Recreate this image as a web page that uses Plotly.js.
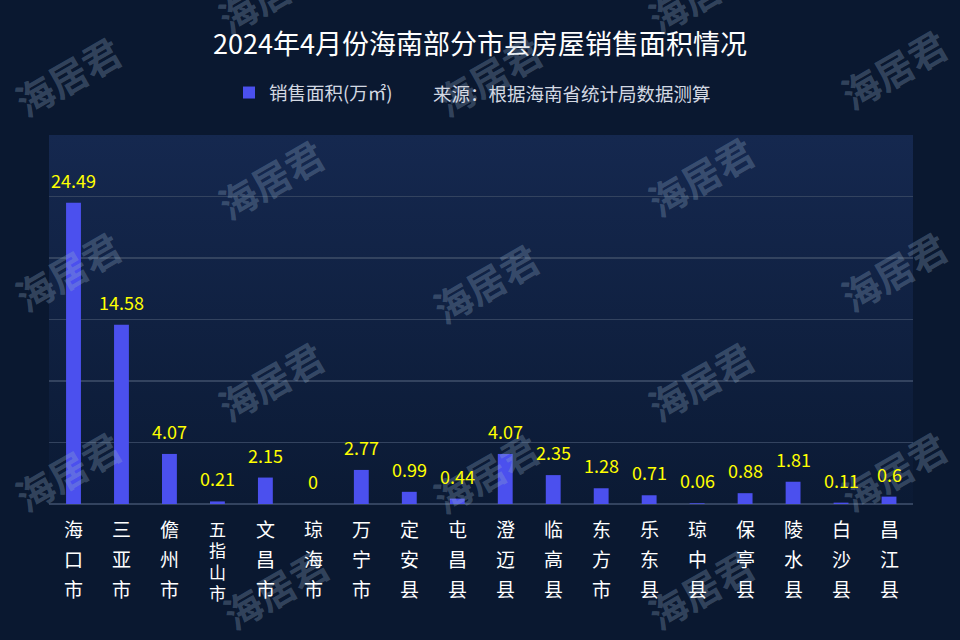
<!DOCTYPE html>
<html>
<head>
<meta charset="utf-8">
<script src="https://cdn.plot.ly/plotly-3.0.1.min.js"></script>
<style>
  html, body { margin: 0; padding: 0; background: #0a1830; }
  #chart { width: 960px; height: 640px; }
</style>
</head>
<body>
<div id="chart"></div>
<script>
// ---- data ----
const categories = ["海口市", "三亚市", "儋州市", "五指山市", "文昌市", "琼海市", "万宁市", "定安县", "屯昌县",
                    "澄迈县", "临高县", "东方市", "乐东县", "琼中县", "保亭县", "陵水县", "白沙县", "昌江县"];
const salesArea = [24.49, 14.58, 4.07, 0.21, 2.15, 0, 2.77, 0.99, 0.44,
                   4.07, 2.35, 1.28, 0.71, 0.06, 0.88, 1.81, 0.11, 0.6];
const seriesName = "销售面积(万㎡)";
const chartTitle = "2024年4月份海南部分市县房屋销售面积情况";
const sourceNote = "来源：根据海南省统计局数据测算";
const watermarkText = "海居君";

// ---- layout helpers ----
const W = 960, H = 640;
const M = { l: 49, r: 47, t: 135, b: 136 };
const pw = W - M.l - M.r, ph = H - M.t - M.b;
const px2x = x => (x - M.l) / pw;
const px2y = y => (H - M.b - y) / ph;
const FONT = '"Noto Sans CJK SC", "Noto Sans", sans-serif';

const annotations = [];

// watermarks (drawn first so the real texts sit above them)
const wmPos = [
  [67, 75], [67, 270], [67, 470],
  [270, -8], [270, 178], [270, 380], [275, 588],
  [488, 75], [485, 282], [485, 472],
  [700, -8], [700, 175], [700, 380], [700, 588],
  [893, 68], [893, 270], [893, 470]
];
wmPos.forEach(([x, y]) => {
  annotations.push({
    x: px2x(x), y: px2y(y), xref: 'paper', yref: 'paper',
    xanchor: 'center', yanchor: 'middle', showarrow: false,
    text: watermarkText, textangle: -30,
    font: { family: FONT, size: 38, weight: 700, color: 'rgba(150,176,201,0.30)' }
  });
});

// value labels above bars
categories.forEach((c, i) => {
  annotations.push({
    x: c, y: salesArea[i], xref: 'x', yref: 'y',
    text: String(salesArea[i]), showarrow: false,
    yanchor: 'middle', yshift: 23,
    font: { family: FONT, size: 18, color: '#ffff00' }
  });
});

// vertical category labels (one character per row)
categories.forEach(c => {
  const chars = Array.from(c);
  const long = chars.length > 3;
  const step = long ? 21.5 : 30;
  chars.forEach((ch, j) => {
    annotations.push({
      x: c, y: 0, xref: 'x', yref: 'paper',
      text: ch, showarrow: false,
      yanchor: 'middle', yshift: -(24 + j * step),
      font: { family: FONT, size: long ? 17 : 19, color: '#ffffff' }
    });
  });
});

// source note next to legend
annotations.push({
  x: px2x(431), y: px2y(93), xref: 'paper', yref: 'paper',
  xanchor: 'left', yanchor: 'middle', showarrow: false,
  text: sourceNote,
  font: { family: FONT, size: 18.5, color: '#d3d8e2' }
});

const gradSvg = "<svg xmlns='http://www.w3.org/2000/svg' width='100' height='100' preserveAspectRatio='none'>" +
  "<defs><linearGradient id='g' x1='0' y1='0' x2='0' y2='1'>" +
  "<stop offset='0' stop-color='#15284f'/><stop offset='1' stop-color='#0b1a34'/>" +
  "</linearGradient></defs><rect width='100' height='100' fill='url(#g)'/></svg>";

const trace = {
  type: 'bar',
  x: categories,
  y: salesArea,
  name: seriesName,
  width: 0.31,
  marker: { color: '#4b50ee' },
  hoverinfo: 'x+y',
  showlegend: true
};

const layout = {
  width: W, height: H,
  margin: M,
  paper_bgcolor: '#0a1830',
  plot_bgcolor: 'rgba(0,0,0,0)',
  font: { family: FONT, color: '#ffffff' },
  title: {
    text: chartTitle,
    x: 0.5, xanchor: 'center',
    y: 1 - 45 / H, yanchor: 'middle', yref: 'container',
    font: { family: FONT, size: 27, color: '#ffffff' }
  },
  showlegend: true,
  legend: {
    orientation: 'h',
    x: px2x(229), xanchor: 'left',
    y: px2y(93), yanchor: 'middle',
    bgcolor: 'rgba(0,0,0,0)',
    font: { family: FONT, size: 18.5, color: '#d3d8e2' }
  },
  xaxis: {
    type: 'category',
    showticklabels: false,
    showgrid: false, zeroline: false, showline: false,
    ticks: ''
  },
  yaxis: {
    range: [0, 30], dtick: 5,
    showticklabels: false,
    showgrid: true, gridcolor: '#33435f', gridwidth: 1.8,
    zeroline: true, zerolinecolor: '#33435f', zerolinewidth: 1.8,
    showline: false, ticks: ''
  },
  images: [{
    source: 'data:image/svg+xml;charset=utf-8,' + encodeURIComponent(gradSvg),
    xref: 'paper', yref: 'paper', x: 0, y: 1, sizex: 1, sizey: 1,
    xanchor: 'left', yanchor: 'top', sizing: 'stretch', layer: 'below'
  }],
  annotations: annotations,
  bargap: 0.69
};

Plotly.newPlot('chart', [trace], layout, { displayModeBar: false, staticPlot: true });
</script>
</body>
</html>
